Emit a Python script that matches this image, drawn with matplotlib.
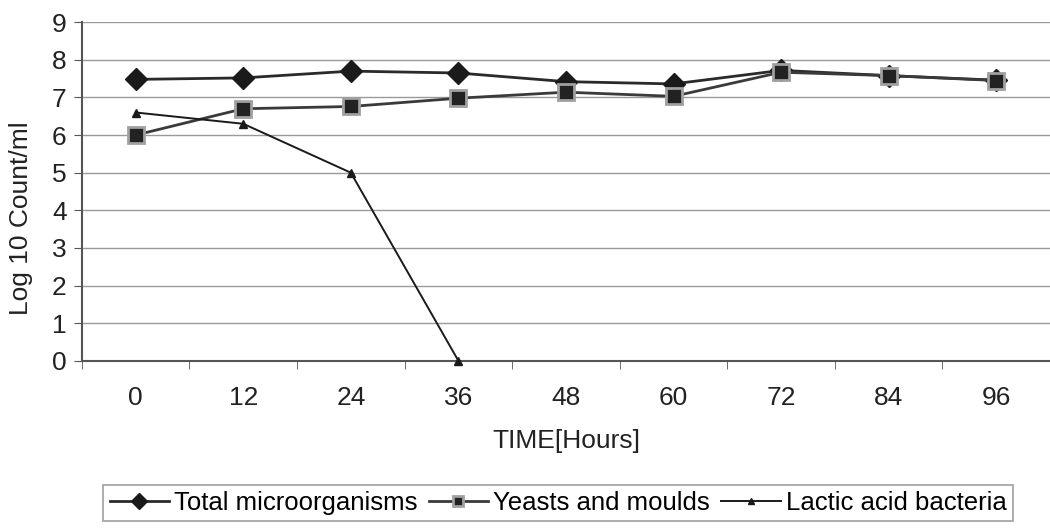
import matplotlib.pyplot as plt
import numpy as np

plt.rcParams['font.family'] = ['Liberation Sans', 'DejaVu Sans']

hours = ['0', '12', '24', '36', '48', '60', '72', '84', '96']
total = [7.48, 7.52, 7.70, 7.65, 7.42, 7.36, 7.72, 7.58, 7.46]
yeasts = [6.0, 6.70, 6.76, 6.98, 7.14, 7.03, 7.67, 7.58, 7.45]
lactic = [6.6, 6.3, 5.0, 0.0]

fig = plt.figure(figsize=(10.5, 5.29), dpi=100)
ax = fig.add_axes([0.078, 0.318, 0.922, 0.64])

x = np.arange(len(hours))
ax.plot(x, total, color='#2a2a2a', lw=2, marker='D', ms=11,
        mfc='#1a1a1a', mec='#1a1a1a', label='Total microorganisms', zorder=3)
ax.plot(x, yeasts, color='#3a3a3a', lw=2, marker='s', ms=11,
        mfc='#222222', mec='#a0a0a0', mew=2, label='Yeasts and moulds', zorder=4)
ax.plot(x[:len(lactic)], lactic, color='#1a1a1a', lw=1.4, marker='^', ms=6,
        mfc='#1a1a1a', mec='#1a1a1a', label='Lactic acid bacteria', zorder=5,
        clip_on=False)

ax.set_xlim(-0.5, 8.5)
ax.set_ylim(0, 9)
ax.set_yticks(range(10))
ax.set_xticks(x)
ax.set_xticklabels(hours)
ax.set_xticks(np.arange(-0.5, 9, 1), minor=True)
ax.tick_params(axis='x', which='major', length=0, pad=18, labelsize=19, colors='#222222')
ax.tick_params(axis='x', which='minor', length=6, color='#555555')
ax.tick_params(axis='y', length=6, labelsize=19, color='#555555', labelcolor='#222222', pad=5)
ax.grid(axis='y', color='#9a9a9a', lw=1)
ax.set_axisbelow(True)
for side in ['top', 'right']:
    ax.spines[side].set_visible(False)
ax.spines['left'].set_color('#555555')
ax.spines['bottom'].set_color('#555555')
ax.spines['left'].set_linewidth(1.5)
ax.spines['bottom'].set_linewidth(1.5)

ax.set_xlabel('TIME[Hours]', fontsize=19, color='#222222', labelpad=14)
ax.set_ylabel('Log 10 Count/ml', fontsize=19, color='#222222')
ax.yaxis.set_label_coords(-0.05, 0.42)

leg = fig.legend(loc='lower left', bbox_to_anchor=(0.086, -0.01), ncol=3, fontsize=18.5,
                 frameon=True, fancybox=False, edgecolor='#888888',
                 handlelength=2.3, handletextpad=0.2, columnspacing=0.45,
                 borderpad=0.25, markerscale=0.7)
leg.get_frame().set_linewidth(1.2)

fig.savefig('out.png', dpi=100)
